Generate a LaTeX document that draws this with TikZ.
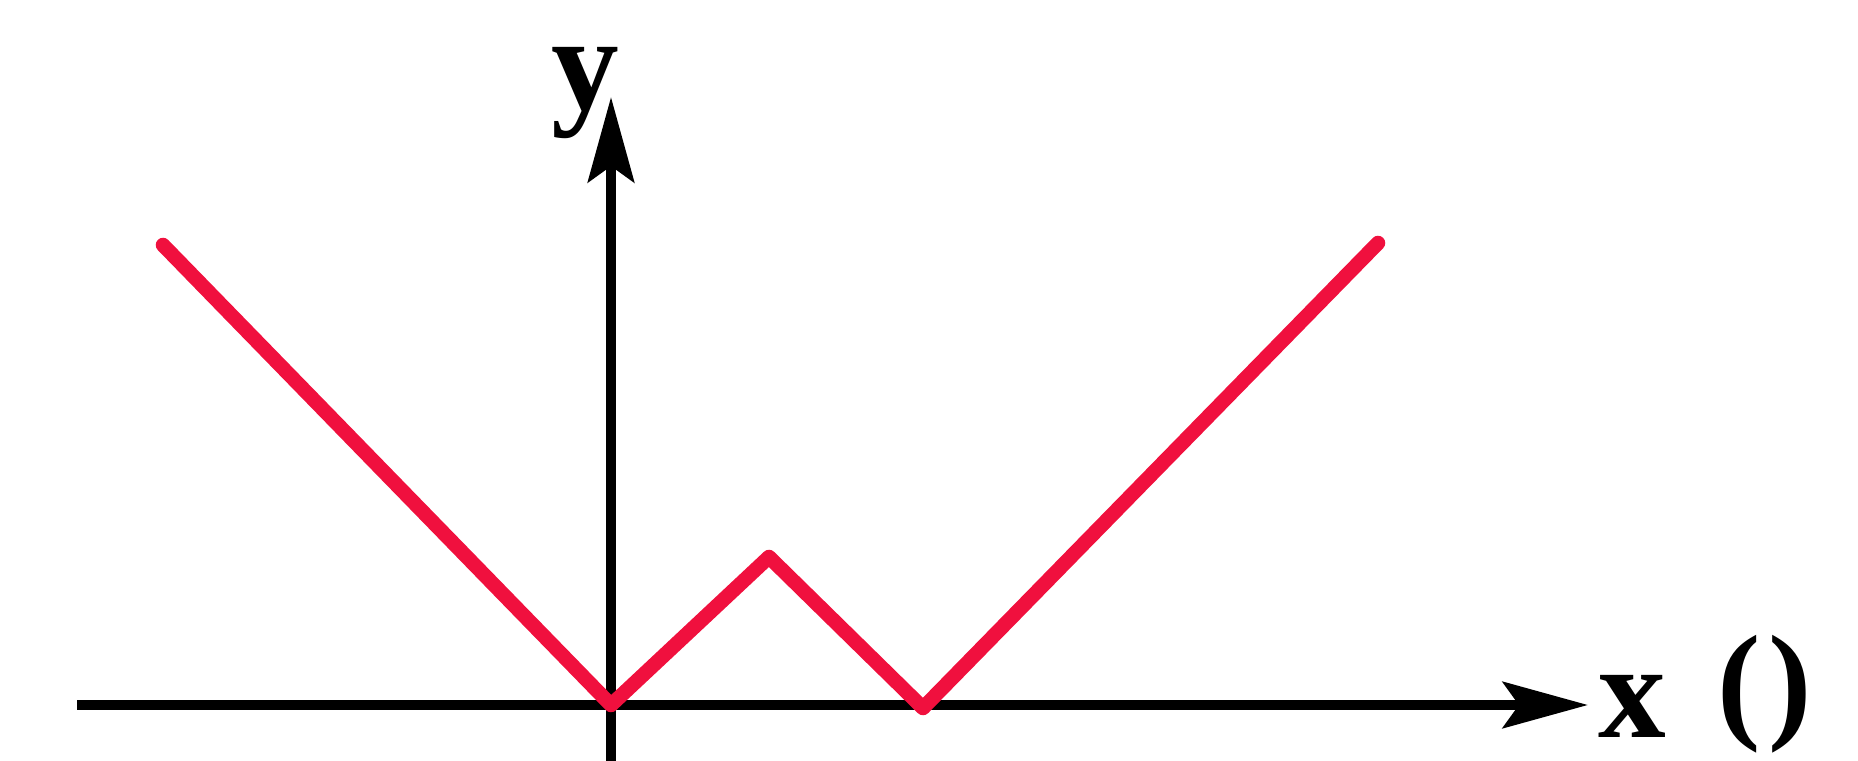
\documentclass[tikz,border=0pt]{standalone}
\usepackage{fontspec}
\setmainfont{Liberation Serif}
\usetikzlibrary{arrows.meta}
\definecolor{curvered}{RGB}{240,16,62}
\tikzset{
  axis/.style={line width=0.105cm, -{Stealth[length=0.85cm,width=0.46cm,inset=0.16cm]}},
  curve/.style={curvered, line width=0.145cm, line cap=round, line join=round},
  lbl/.style={font=\fontsize{38.5}{40}\selectfont\bfseries, inner sep=0pt, anchor=base west}
}
\begin{document}
\begin{tikzpicture}[x=0.01cm,y=-0.01cm]
\useasboundingbox (0,0) rectangle (1858,761);
\coordinate (xs) at (77,705);
\coordinate (xe) at (1588,705);
\coordinate (ys) at (611,770);
\coordinate (ye) at (611,97);
\draw[axis] (xs) -- (xe);
\draw[axis] (ys) -- (ye);
\coordinate (p1) at (163,245);
\coordinate (p2) at (611,705);
\coordinate (p3) at (769,557);
\coordinate (p4) at (923,708);
\coordinate (p5) at (1378,243);
\draw[curve] (p1) -- (p2) -- (p3) -- (p4) -- (p5);
\node[lbl] (ylab) at (551,110) {y};
\node[lbl] (xlab) at (1598,737) {x};
\node[lbl, font=\fontsize{37}{38}\selectfont\bfseries] (plab) at (1717,725) {(\hspace{0.08cm})};
\end{tikzpicture}
\end{document}
